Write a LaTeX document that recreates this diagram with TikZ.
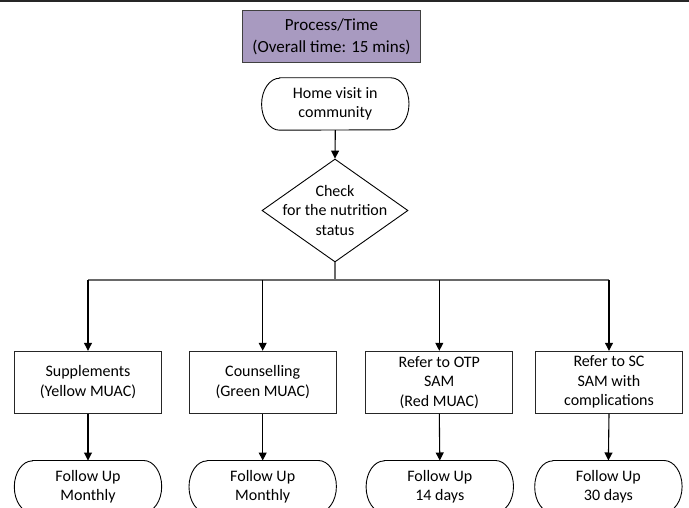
\documentclass[tikz,border=0pt]{standalone}
\usepackage{fontspec}
\setmainfont{Carlito}
\usetikzlibrary{shapes.geometric,arrows.meta}
\definecolor{lavender}{RGB}{168,154,192}
\definecolor{edgegray}{RGB}{64,64,64}
\definecolor{busgray}{RGB}{105,105,105}
\definecolor{topgray}{RGB}{38,38,38}
\tikzset{
  txt/.style={align=center, font=\fontsize{16pt}{19.5pt}\selectfont, inner sep=0pt},
  titlebox/.style={draw=edgegray, line width=1.3pt, fill=lavender, minimum width=178pt, minimum height=52pt,
                   align=center, font=\fontsize{17pt}{21.5pt}\selectfont, inner sep=0pt},
  stepbox/.style={draw=black!85, line width=1pt, minimum width=147pt, minimum height=62pt, txt},
  termnode/.style={minimum width=147pt, minimum height=52pt, txt},
  termline/.style={draw=black, line width=0.9pt},
  diam/.style={diamond, draw=black, line width=0.9pt, minimum width=146pt, minimum height=103pt, inner sep=0pt},
  arr/.style={draw=black, line width=1.1pt, -{Triangle[length=8pt,width=8pt]}},
  busline/.style={draw=busgray, line width=1.6pt},
}
\newcommand{\termoutline}[1]{%
  \draw[termline] ([xshift=18pt]#1.north west) -- ([xshift=-18pt]#1.north east)
    arc[start angle=90,end angle=-90,x radius=18pt,y radius=26pt]
    -- ([xshift=18pt]#1.south west)
    arc[start angle=270,end angle=90,x radius=18pt,y radius=26pt] -- cycle;}
\begin{document}
\begin{tikzpicture}[x=1pt,y=-1pt]
\useasboundingbox (0,0) rectangle (689,508);
\clip (0,0) rectangle (689,508);
% top rule
\draw[topgray, line width=2pt] (0,1) -- (689,1);
% title
\node[titlebox] (title) at (331.5,36.7) {Process/Time\\(Overall time: 15 mins)};
% home visit
\node[termnode] (home) at (335.3,104) {Home visit in\\community};
\termoutline{home}
% decision
\node[diam] (chk) at (335,210.5) {};
\node[txt] (chktxt) at (chk.center) {Check\\for the nutrition\\status};
\draw[arr] (home.south) -- (chk.north);
% bus
\coordinate (busL) at (88,280);
\coordinate (busR) at (609,280);
\draw[busline] (chk.south) -- (chk.south |- busL);
\draw[busline] (busL) -- (busR);
% step boxes
\node[stepbox] (b1) at (88,382.3) {Supplements\\(Yellow MUAC)};
\node[stepbox] (b2) at (262.7,382.3) {Counselling\\(Green MUAC)};
\node[stepbox] (b3) at (439.3,382.3) {Refer to OTP\\SAM\\(Red MUAC)};
\node[stepbox] (b4) at (609,382.3) {Refer to SC\\SAM with\\complications};
\foreach \b in {b1,b2,b3,b4}{
  \draw[arr] (\b |- busL) -- (\b.north);
}
% follow-up terminators
\node[termnode] (f1) at (88,486.7) {Follow Up\\Monthly};
\node[termnode] (f2) at (262.7,486.7) {Follow Up\\Monthly};
\node[termnode] (f3) at (439.8,486.7) {Follow Up\\14 days};
\node[termnode] (f4) at (608.4,486.7) {Follow Up\\30 days};
\termoutline{f1}
\termoutline{f2}
\termoutline{f3}
\termoutline{f4}
\draw[arr] (b1.south) -- (f1.north);
\draw[arr] (b2.south) -- (f2.north);
\draw[arr] (b3.south) -- (f3.north);
\draw[arr] (b4.south) -- (f4.north);
\end{tikzpicture}
\end{document}
